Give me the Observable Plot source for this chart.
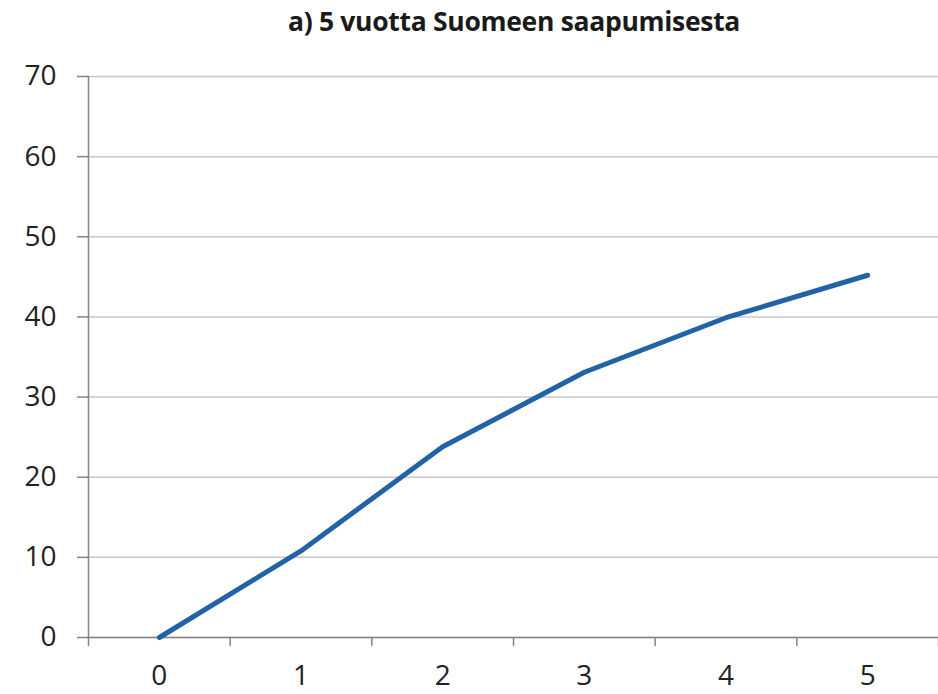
<!DOCTYPE html>
<html>
<head>
<meta charset="utf-8">
<script src="https://cdn.jsdelivr.net/npm/d3@7"></script>
<script src="https://cdn.jsdelivr.net/npm/@observablehq/plot@0.6"></script>
<style>
  html, body { margin: 0; padding: 0; background: #fff; }
  #title { width: 938px; height: 44px; line-height: 42px; text-align: center; font-family: "Open Sans", sans-serif; font-weight: 700; font-size: 26.5px; letter-spacing: -0.3px; color: #1a1a1a; padding-left: 90px; box-sizing: border-box; }
</style>
</head>
<body>
<div id="title">a) 5 vuotta Suomeen saapumisesta</div>
<div id="chart"></div>
<script>
const years = [0, 1, 2, 3, 4, 5];
const values = [0, 10.8, 23.8, 33.1, 39.9, 45.2];
const yTicks = [0, 10, 20, 30, 40, 50, 60, 70];

const data = years.map((y, i) => ({year: y, value: values[i]}));
const boundaries = years.map(y => y - 0.5).concat([years[years.length - 1] + 0.5]);
const xDomain = [boundaries[0], boundaries[boundaries.length - 1]];

const axisColor = "#858585";
const chart = Plot.plot({
  width: 938,
  height: 650,
  marginLeft: 88,
  marginRight: 0,
  marginTop: 32,
  marginBottom: 57,
  style: {fontFamily: "'Open Sans', sans-serif", fontSize: "28px", color: "#222", background: "#fff"},
  x: {domain: xDomain, axis: null},
  y: {domain: [0, 70], axis: null},
  marks: [
    Plot.gridY(yTicks, {stroke: "#c8c8c8", strokeOpacity: 1, strokeWidth: 1.5}),
    Plot.axisY(yTicks, {tickSize: 11, tickPadding: 21, stroke: axisColor, strokeWidth: 1.5, fill: "#222", fontSize: 28, label: null, tickFormat: d3.format("d")}),
    Plot.axisX(boundaries, {tickSize: 9, tickFormat: () => "", stroke: axisColor, strokeWidth: 1.5, label: null}),
    Plot.axisX(years, {tickSize: 0, tickPadding: 28, fill: "#222", fontSize: 28, label: null, tickFormat: d3.format("d")}),
    Plot.ruleX([xDomain[0]], {stroke: axisColor, strokeWidth: 1.5}),
    Plot.ruleY([0], {stroke: axisColor, strokeWidth: 1.5}),
    Plot.line(data, {x: "year", y: "value", stroke: "#2263a6", strokeWidth: 5, strokeLinecap: "round", strokeLinejoin: "round"})
  ]
});
document.getElementById("chart").appendChild(chart);
</script>
</body>
</html>
